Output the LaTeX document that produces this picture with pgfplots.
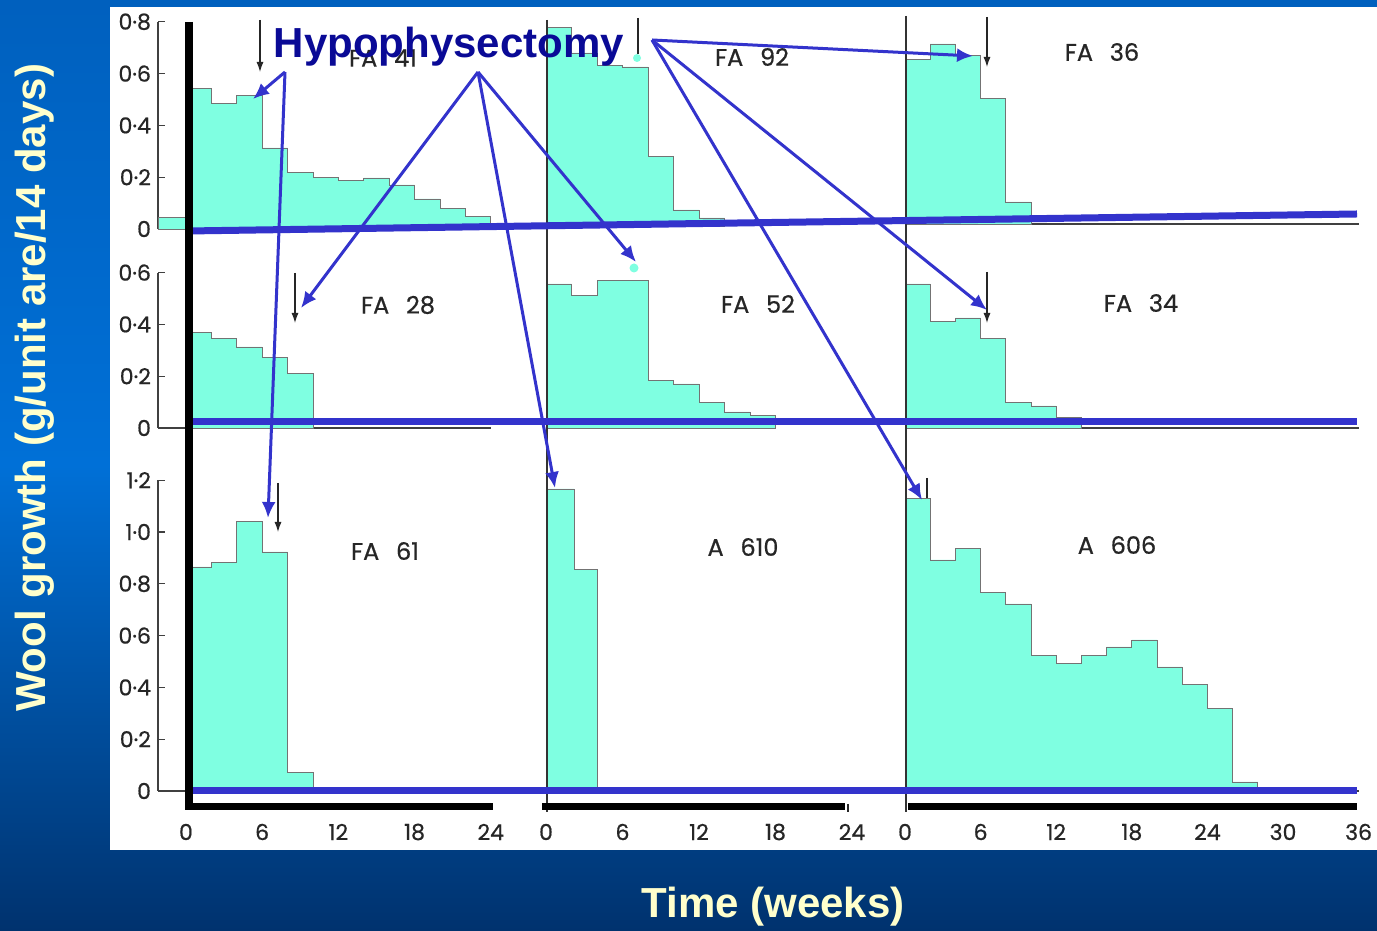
\documentclass[border=0pt]{standalone}
\usepackage{pgfplots}
\pgfplotsset{compat=1.18}
\usepackage{fontspec}
\setmainfont{Liberation Sans}
\newfontfamily\figfont{Poppins}[FakeBold=0.6]
\usetikzlibrary{arrows.meta}

\definecolor{aqua}{RGB}{127,255,225}
\definecolor{slideblue}{RGB}{51,51,204}
\definecolor{hypoblue}{RGB}{10,10,150}
\definecolor{pale}{RGB}{255,255,204}
\definecolor{bgtop}{RGB}{0,96,190}
\definecolor{bgmid}{RGB}{0,112,215}
\definecolor{bgbot}{RGB}{0,50,110}

% one px of the slide = 0.5pt
\pgfplotsset{
  panel/.style={
    anchor=south west, enlargelimits=false, clip=false,
    ymin=0, y=129.5pt,
    axis lines=left,
    axis line style={-, black!75, line width=0.6pt},
    xtick=\empty, ytick=\empty,
    tick align=inside, major tick length=3.5pt,
    tick style={black!75, line width=0.6pt},
    xtick style={draw=none},
    tick label style={font=\figfont\fontsize{11}{12}\selectfont, text=black!85},
    xticklabel style={anchor=center, yshift=-20.5pt},
  },
  leftcol/.style={panel, x=6.35pt, xmin=-2.2, xmax=24},
  midcol/.style={panel, x=6.375pt, xmin=0, xmax=24, y axis line style={draw=none},
    x axis line style={draw=none}},
  rightcol/.style={panel, x=6.3pt, xmin=0, xmax=36, y axis line style={draw=none}},
  steps/.style={const plot, fill=aqua, draw=black!55, line width=0.4pt},
}

\begin{document}
\begin{tikzpicture}
\useasboundingbox (0,0) rectangle (688.5pt,465.5pt);
\shade[top color=bgtop, bottom color=bgbot, middle color=bgmid] (0,0) rectangle (688.5pt,465.5pt);
\fill[white] (55pt,40.5pt) rectangle (688.5pt,462pt);

% ---- row 1
\begin{axis}[leftcol, at={(79pt,351pt)}, ymax=0.8,
  ytick={0,0.2,0.4,0.6,0.8}, yticklabels={0,0·2,0·4,0·6,0·8}]
\addplot[steps] coordinates {(-2.2,0.045) (0,0.544) (2,0.486) (4,0.514) (6,0.313)
  (8,0.22) (10,0.20) (12,0.189) (14,0.197) (16,0.17) (18,0.116) (20,0.081) (22,0.05) (24,0.05)} \closedcycle;
\end{axis}
\begin{axis}[midcol, at={(273pt,352.5pt)}, ymax=0.8]
\addplot[steps] coordinates {(0,0.765) (2,0.668) (4,0.62) (6,0.614) (8,0.27)
  (10,0.062) (12,0.031) (14,0.031)} \closedcycle;
\end{axis}
\begin{axis}[rightcol, at={(452.5pt,353.5pt)}, ymax=0.8]
\addplot[steps] coordinates {(0,0.637) (2,0.695) (4,0.649) (6,0.483) (8,0.085) (10,0.085)} \closedcycle;
\end{axis}

% ---- row 2
\begin{axis}[leftcol, at={(79pt,251.5pt)}, ymax=0.6,
  ytick={0,0.2,0.4,0.6}, yticklabels={0,0·2,0·4,0·6}]
\addplot[steps] coordinates {(0,0.37) (2,0.344) (4,0.313) (6,0.274) (8,0.212) (10,0.212)} \closedcycle;
\end{axis}
\begin{axis}[midcol, at={(273pt,251.5pt)}, ymax=0.6]
\addplot[steps] coordinates {(0,0.556) (2,0.51) (4,0.571) (8,0.185) (10,0.17)
  (12,0.10) (14,0.062) (16,0.05) (18,0.05)} \closedcycle;
\end{axis}
\begin{axis}[rightcol, at={(452.5pt,251.5pt)}, ymax=0.6]
\addplot[steps] coordinates {(0,0.556) (2,0.41) (4,0.425) (6,0.344) (8,0.10)
  (10,0.085) (12,0.039) (14,0.039)} \closedcycle;
\end{axis}

% ---- row 3
\begin{axis}[leftcol, at={(79pt,70pt)}, ymax=1.2,
  ytick={0,0.2,0.4,0.6,0.8,1.0,1.2}, yticklabels={0,0·2,0·4,0·6,0·8,1·0,1·2},
  xtick={0,6,12,18,24}, xticklabels={0,6,12,18,24}]
\addplot[steps] coordinates {(0,0.865) (2,0.884) (4,1.042) (6,0.923) (8,0.073)
  (10,0.015) (12,0.015)} \closedcycle;
\end{axis}
\begin{axis}[midcol, at={(273pt,70pt)}, ymax=1.2,
  xtick={0,6,12,18,24}, xticklabels={0,6,12,18,24}]
\addplot[steps] coordinates {(0,1.166) (2.2,0.857) (4,0.015) (8,0.015)} \closedcycle;
\end{axis}
\begin{axis}[rightcol, at={(452.5pt,70pt)}, ymax=1.2,
  xtick={0,6,12,18,24,30,36}, xticklabels={0,6,12,18,24,30,36}]
\addplot[steps] coordinates {(0,1.131) (2,0.892) (4,0.938) (6,0.768) (8,0.722)
  (10,0.525) (12,0.494) (14,0.525) (16,0.556) (18,0.583) (20,0.479) (22,0.413)
  (24,0.317) (26,0.035) (28,0) (32,0.012) (34,0.012)} \closedcycle;
\end{axis}

% ---- annotations in slide pixels (y downwards)
\begin{scope}[x=0.5pt, y=-0.5pt, shift={(0pt,465.5pt)}]
  % original figure: column axes and operation markers
  \draw[black!80, line width=0.6pt] (547,20) -- (547,812);
  \draw[black!80, line width=0.6pt] (906,16) -- (906,812);
  \begin{scope}[black!85, line width=0.6pt, -{Latex[length=5pt,width=3.5pt]}]
    \draw (260,20) -- (260,72);
    \draw (987,17) -- (987,67);
    \draw (295,273) -- (295,323);
    \draw (987,272) -- (987,323);
    \draw (278,483) -- (278,532);
  \end{scope}
  \draw[black!85, line width=0.6pt] (638,18) -- (638,54);
  \fill[aqua] (637,58) circle[radius=4];
  \fill[aqua] (634,268) circle[radius=4.5];
  \draw[black!85, line width=0.6pt] (927,478) -- (927,498);
  \draw[black!85, line width=0.6pt] (848,804) -- (848,812);

  % panel labels
  \begin{scope}[font=\figfont\fontsize{12}{14}\selectfont, text=black!85]
    \node at (383,58) {FA\hspace{0.7em}41};
    \node at (752,57) {FA\hspace{0.7em}92};
    \node at (1102,52) {FA\hspace{0.7em}36};
    \node at (398,305) {FA\hspace{0.7em}28};
    \node at (758,304) {FA\hspace{0.7em}52};
    \node at (1141,303) {FA\hspace{0.7em}34};
    \node at (385,551) {FA\hspace{0.7em}61};
    \node at (743,547) {A\hspace{0.7em}610};
    \node at (1117,545) {A\hspace{0.7em}606};
  \end{scope}

  % slide overlays
  \draw[slideblue, line width=3.5pt] (188,231) -- (1357,214);
  \draw[slideblue, line width=3.5pt] (188,422) -- (1357,422);
  \draw[slideblue, line width=3.5pt] (188,791) -- (1357,791);
  \draw[black, line width=3.8pt] (189,22) -- (189,810);
  \draw[black, line width=3.5pt] (185,807) -- (493,807);
  \draw[black, line width=3.5pt] (542,807) -- (845,807);
  \draw[black, line width=3.5pt] (908,807) -- (1357,807);

  \node[hypoblue, font=\bfseries\fontsize{21}{25}\selectfont] at (449,47) {Hypophysectomy};
  \begin{scope}[slideblue, line width=1.5pt, -{Latex[length=8pt,width=7pt]}]
    \draw (285,72) -- (253,99);
    \draw (285,72) -- (268,518);
    \draw (478,72) -- (301,308);
    \draw (478,72) -- (636,262);
    \draw (478,72) -- (555,488);
    \draw (652,40) -- (973,56);
    \draw (652,40) -- (987,310);
    \draw (652,40) -- (922,500);
  \end{scope}

  \node[pale, rotate=90, font=\bfseries\fontsize{21}{25}\selectfont] at (35,388) {Wool growth (g/unit are/14 days)};
  \node[pale, font=\bfseries\fontsize{21}{25}\selectfont] at (773,907) {Time (weeks)};
\end{scope}
\end{tikzpicture}
\end{document}
